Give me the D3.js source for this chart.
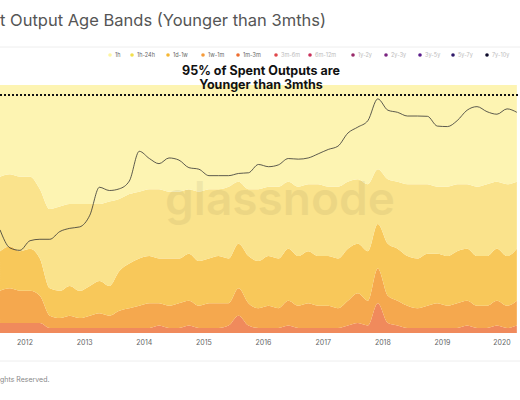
<!DOCTYPE html>
<html>
<head>
<meta charset="utf-8">
<script src="https://cdn.jsdelivr.net/npm/d3@7"></script>
<style>
  body { margin: 0; background: #fff; font-family: Inter, "Noto Sans", sans-serif; }
</style>
</head>
<body>
<svg id="vis-svg"></svg>
<script>
// bi-monthly samples, Aug 2011 .. Apr 2020
var months = [
  "2011-08","2011-10","2011-12",
  "2012-02","2012-04","2012-06","2012-08","2012-10","2012-12",
  "2013-02","2013-04","2013-06","2013-08","2013-10","2013-12",
  "2014-02","2014-04","2014-06","2014-08","2014-10","2014-12",
  "2015-02","2015-04","2015-06","2015-08","2015-10","2015-12",
  "2016-02","2016-04","2016-06","2016-08","2016-10","2016-12",
  "2017-02","2017-04","2017-06","2017-08","2017-10","2017-12",
  "2018-02","2018-04","2018-06","2018-08","2018-10","2018-12",
  "2019-02","2019-04","2019-06","2019-08","2019-10","2019-12",
  "2020-02","2020-04"
];

var price = [11,4,3.5, 6,6.5,6.5,10,12,13, 25,120,100,110,170,900,
  600,450,620,550,360,330, 230,230,230,260,270,430, 380,420,600,580,620,780,
  1000,1200,2500,3500,5000,17000, 9000,8000,6500,6500,6400,3700,
  3600,5000,9000,11000,8300,7200, 9700,8000];

// shares in % of spent outputs, bottom to top
var band1m3m = [4,4,4, 4,4,2,2,2,2, 2,2,2,2,2,2, 2,3,2,2,3,2, 2,2,3,7,3,2, 2,2,3,2,2,2, 2,2,3,4,3,12, 4,3,2,2,2,2, 2,2,3,2,2,3, 2,3];
var band1w1m = [13,14,13, 13,11,5,4,5,4, 5,6,5,7,8,9, 10,9,9,10,10,9, 10,10,9,11,9,8, 9,8,10,9,10,9, 9,8,10,12,10,14, 11,10,9,8,9,10, 9,10,10,9,9,10, 9,10];
var band1d1w = [16,17,16, 17,15,11,11,12,11, 12,13,12,16,18,19, 19,18,19,18,19,18, 18,19,18,18,19,19, 20,20,21,20,21,20, 20,20,21,20,20,18, 21,21,20,20,21,20, 20,21,21,20,20,21, 20,21];
var band1h24h = [30,29,30, 29,28,32,34,33,35, 33,31,34,29,28,27, 27,28,27,27,26,28, 28,27,29,25,27,29, 28,29,27,28,27,29, 28,29,27,26,27,22, 26,27,29,30,28,27, 28,27,26,28,29,27, 29,27];
var band1h = [37,36,37, 37,42,50,49,48,48, 48,48,47,46,44,43, 42,42,43,43,42,43, 42,42,41,39,42,42, 41,41,39,41,40,40, 41,41,39,38,40,34, 38,39,40,40,40,41, 41,40,40,41,40,39, 40,39];

var legendNames = ["1h","1h-24h","1d-1w","1w-1m","1m-3m","3m-6m","6m-12m","1y-2y","2y-3y","3y-5y","5y-7y","7y-10y"];
var legendColors = ["#fdf5a0","#f2df4c","#f6b733","#f59b3a","#ee6d30","#e0464a","#c9305a","#9a2a6a","#7a2380","#5a1c8a","#301a6a","#0d0a2a"];
var yearTicks = [2012,2013,2014,2015,2016,2017,2018,2019,2020];

var width = 520, height = 400;
var svg = d3.select("#vis-svg").attr("width", width).attr("height", height);

var parse = d3.timeParse("%Y-%m");
var rows = months.map(function(m, i) {
  return { date: parse(m), b0: band1m3m[i], b1: band1w1m[i], b2: band1d1w[i], b3: band1h24h[i], b4: band1h[i], price: price[i] };
});

var x = d3.scaleTime()
  .domain([new Date(2012,0,1), new Date(2020,0,1)])
  .range([25, 502]);
var y = d3.scaleLinear().domain([0, 1]).range([333, 85]);
var yPrice = d3.scaleLog().domain([0.034, 37000]).range([333, 85]);

// title and frame lines
svg.append("text").attr("x", 0).attr("y", 26)
  .attr("font-size", 16.5).attr("fill", "#555")
  .text("t Output Age Bands (Younger than 3mths)");
svg.append("line").attr("x1", 0).attr("x2", width).attr("y1", 47).attr("y2", 47).attr("stroke", "#eee");
svg.append("line").attr("x1", 0).attr("x2", width).attr("y1", 361).attr("y2", 361).attr("stroke", "#eee");
svg.append("text").attr("x", 0).attr("y", 382).attr("font-size", 7).attr("fill", "#888").text("ghts Reserved.");

// legend
var legendX = [110,132,168,203,238,276,310,353,386,420,453,487];
var lg = svg.append("g").selectAll("g").data(legendNames).enter().append("g")
  .attr("transform", function(d, i) { return "translate(" + legendX[i] + ",57)"; });
lg.append("circle").attr("r", 1.8).attr("cy", -2).attr("fill", function(d, i) { return legendColors[i]; });
lg.append("text").attr("x", 5).attr("font-size", 5.5)
  .attr("fill", function(d, i) { return i < 5 ? "#666" : "#bbb"; })
  .text(function(d) { return d; });

// stacked bands
var keys = ["b0","b1","b2","b3","b4"];
var bandColors = ["#f08a5c","#f5a84e","#f8c85a","#fae38c","#fdf4b2"];
var stack = d3.stack().keys(keys).offset(d3.stackOffsetExpand);
var area = d3.area()
  .x(function(d) { return x(d.data.date); })
  .y0(function(d) { return y(d[0]); })
  .y1(function(d) { return y(d[1]); })
  .curve(d3.curveMonotoneX);

svg.append("g").selectAll("path").data(stack(rows)).enter().append("path")
  .attr("d", area)
  .attr("fill", function(d, i) { return bandColors[i]; });

// watermark
svg.append("text").attr("x", 280).attr("y", 215).attr("text-anchor", "middle")
  .attr("font-size", 46).attr("font-weight", 600).attr("fill", "#000").attr("opacity", 0.05)
  .text("glassnode");

// price line
var line = d3.line()
  .x(function(d) { return x(d.date); })
  .y(function(d) { return yPrice(d.price); })
  .curve(d3.curveMonotoneX);
svg.append("path").datum(rows).attr("d", line)
  .attr("fill", "none").attr("stroke", "#333").attr("stroke-width", 0.8);

// 95% line and note
svg.append("line").attr("x1", 0).attr("x2", width)
  .attr("y1", y(0.96)).attr("y2", y(0.96))
  .attr("stroke", "#111").attr("stroke-width", 2).attr("stroke-dasharray", "2,2");
svg.append("text").attr("x", 261).attr("y", 75).attr("text-anchor", "middle")
  .attr("font-size", 12.5).attr("font-weight", 700).attr("fill", "#111")
  .text("95% of Spent Outputs are");
svg.append("text").attr("x", 261).attr("y", 89).attr("text-anchor", "middle")
  .attr("font-size", 12.5).attr("font-weight", 700).attr("fill", "#111")
  .text("Younger than 3mths");

// x axis labels
svg.append("g").selectAll("text").data(yearTicks).enter().append("text")
  .attr("x", function(d) { return x(new Date(d, 0, 1)); })
  .attr("y", 345).attr("text-anchor", "middle")
  .attr("font-size", 7).attr("fill", "#666")
  .text(function(d) { return d; });
</script>
</body>
</html>
